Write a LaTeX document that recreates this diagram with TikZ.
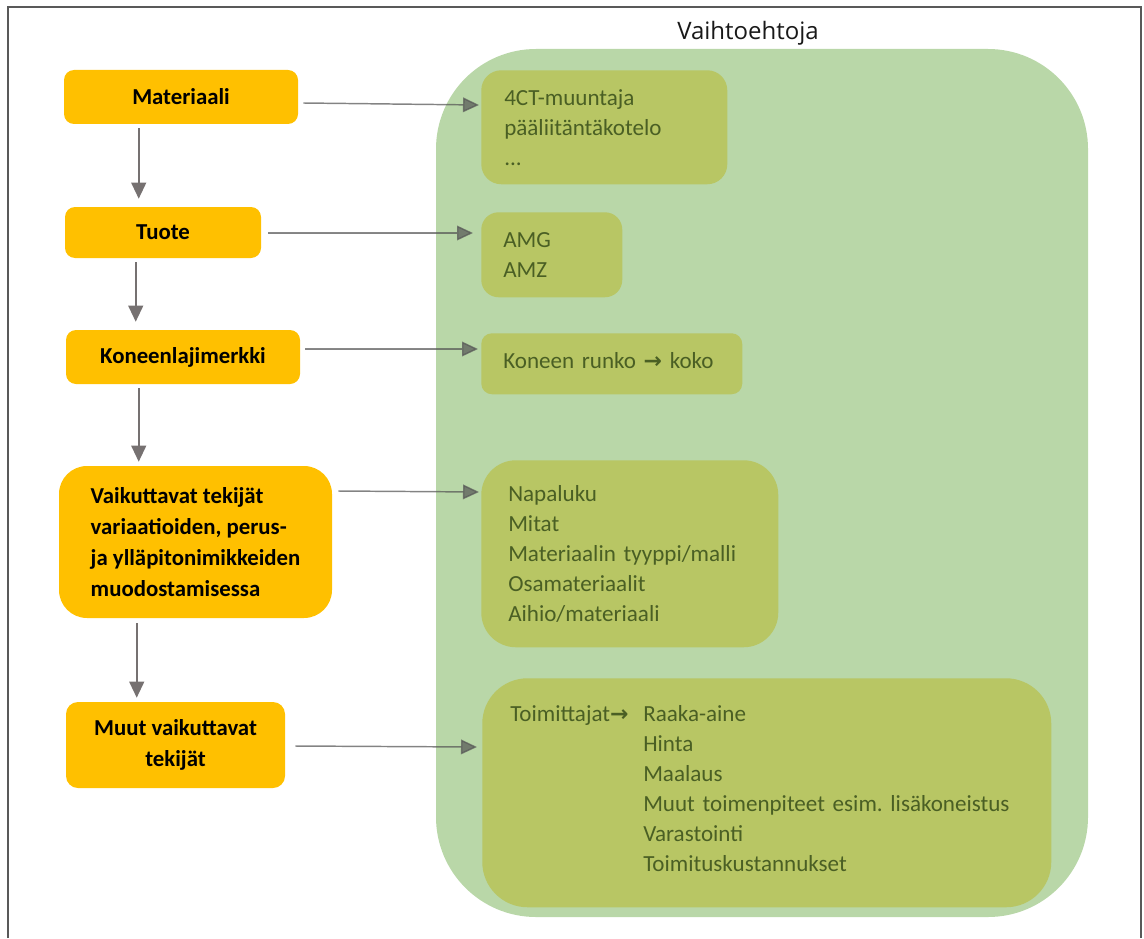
\documentclass[tikz,border=0pt]{standalone}
\usepackage{fontspec}
\setmainfont{Carlito}
\newfontfamily\titlefont{Open Sans}
\newfontfamily\symfont{DejaVu Sans}
\usetikzlibrary{arrows.meta,calc}
\frenchspacing

\definecolor{frameg}{HTML}{595959}
\definecolor{bigg}{HTML}{B9D7A8}
\definecolor{oliveb}{HTML}{B8C664}
\definecolor{olivet}{HTML}{4A5F24}
\definecolor{orangeb}{HTML}{FFC000}
\definecolor{flowg}{HTML}{767171}
\definecolor{linkg}{HTML}{555555}

\newcommand{\arr}{{\symfont\bfseries\fontsize{16.5}{16}\selectfont →}}

\tikzset{
  stage/.style={fill=orangeb, draw=none, inner sep=0pt, align=center,
    font=\bfseries\fontsize{17.1}{23.25}\selectfont, text=black},
  choice/.style={fill=oliveb, draw=none, anchor=north west, inner ysep=0pt,
    align=left, text=olivet, font=\fontsize{17.3}{22.5}\selectfont},
  down/.style={draw=flowg, line width=1.5pt,
    -{Triangle[length=12pt,width=11pt]}, color=flowg},
  link/.style={draw=linkg, line width=1.1pt, draw opacity=0.7, fill opacity=0.7,
    -{Triangle[length=12pt,width=11pt]}, fill=linkg},
}

\begin{document}
\begin{tikzpicture}[x=0.75pt,y=-0.75pt]
\useasboundingbox (0,0) rectangle (1144,938);

% outer frame (open at the bottom)
\draw[frameg, line width=1.5pt] (8,938) -- (8,7) -- (1141,7) -- (1141,938);

% options panel
\fill[bigg, rounded corners=75pt] (436,49) rectangle (1088,917);
\node[font=\titlefont\fontsize{18}{20}\selectfont, text=black!90] (title) at (748,33) {Vaihtoehtoja};

% left column: stages
\node[stage, rounded corners=7.5pt, minimum width=175.5pt, minimum height=40.5pt]
  (mat) at (181,97) {Materiaali};
\node[stage, rounded corners=7.5pt, minimum width=147pt, minimum height=38.25pt]
  (tuo) at (163,232.5) {Tuote};
\node[stage, rounded corners=7.5pt, minimum width=175.5pt, minimum height=40.5pt]
  (kon) at (183,357) {Koneenlajimerkki};
\node[stage, rounded corners=21pt, minimum width=204.75pt, minimum height=114pt, align=left]
  (vai) at (195.5,542) {Vaikuttavat tekijät\\variaatioiden, perus-\\ja ylläpitonimikkeiden\\muodostamisessa};
\node[stage, rounded corners=9pt, minimum width=164.25pt, minimum height=64.5pt]
  (muu) at (175.5,745) {Muut vaikuttavat\\tekijät};

% right column: alternatives
\node[choice, rounded corners=15pt, minimum height=85.5pt, text width=150pt, inner xsep=17.25pt]
  (b1) at (481,70) {4CT-muuntaja\\pääliitäntäkotelo\\...};
\node[choice, rounded corners=13pt, minimum height=63.75pt, text width=72.75pt, inner xsep=16.5pt]
  (b2) at (481,212) {AMG\\AMZ};
\node[choice, rounded corners=8pt, minimum height=45.75pt, text width=162.75pt, inner xsep=16.5pt]
  (b3) at (481,333) {\raisebox{2.5pt}[\height][\depth]{Koneen runko \arr{} koko}};
\node[choice, rounded corners=26pt, minimum height=140.25pt, text width=182.25pt, inner xsep=20.25pt]
  (b4) at (481,460) {Napaluku\\Mitat\\Materiaalin tyyppi/malli\\Osamateriaalit\\Aihio/materiaali};
\node[choice, rounded corners=34pt, minimum height=171.75pt, text width=384.75pt, inner xsep=21pt]
  (b5) at (482,678) {\raisebox{3pt}[\height][\depth]{\parbox{384.75pt}{%
    \makebox[99.75pt][l]{Toimittajat\arr}Raaka-aine\\
    \hspace*{99.75pt}Hinta\\
    \hspace*{99.75pt}Maalaus\\
    \hspace*{99.75pt}Muut toimenpiteet esim. lisäkoneistus\\
    \hspace*{99.75pt}Varastointi\\
    \hspace*{99.75pt}Toimituskustannukset}}};

% flow between stages
\draw[down] ($(mat.south west)+(75,4)$) -- ($(tuo.north west)+(74,-8)$);
\draw[down] ($(tuo.south west)+(71,4)$) -- ($(kon.north west)+(70,-8)$);
\draw[down] ($(kon.south west)+(73,4)$) -- ($(vai.north west)+(80,-4)$);
\draw[down] ($(vai.south west)+(78,5)$) -- ($(muu.north west)+(71,-4)$);

% links from stages to their alternatives
\draw[link] ($(mat.east)+(5,6)$) -- ($(b1.north west)+(-2,35)$);
\draw[link] ($(tuo.east)+(7,0.5)$) -- ($(b2.north west)+(-8,21)$);
\draw[link] ($(kon.east)+(5,-8)$) -- ($(b3.north west)+(-3,16)$);
\draw[link] ($(vai.east)+(6,-51)$) -- ($(b4.north west)+(-2,32)$);
\draw[link] ($(muu.east)+(10,1)$) -- ($(b5.north west)+(-5,69)$);
\end{tikzpicture}
\end{document}
